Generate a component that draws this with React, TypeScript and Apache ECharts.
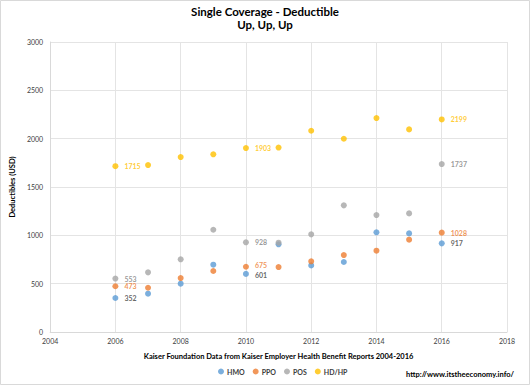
import React, { useEffect, useRef } from "react";
import * as echarts from "echarts";

const years = [2006, 2007, 2008, 2009, 2010, 2011, 2012, 2013, 2014, 2015, 2016];
const hmo = [352, 396, 500, 696, 601, 907, 689, 724, 1031, 1020, 917];
const ppo = [473, 458, 558, 631, 675, 672, 731, 796, 841, 955, 1028];
const pos = [553, 617, 752, 1058, 928, 924, 1010, 1310, 1210, 1227, 1737];
const hdhp = [1715, 1727, 1810, 1838, 1903, 1908, 2082, 1999, 2213, 2096, 2199];
const labeledYears = [2006, 2010, 2016];
const seriesNames = ["HMO", "PPO", "POS", "HD/HP"];
const colors = ["#5B9BD5", "#ED7D31", "#A5A5A5", "#FFC000"];
const labelColors = ["#404040", "#ED7D31", "#7F7F7F", "#FFC000"];

const FONT = "Lato, 'Open Sans', sans-serif";

export default function App() {
  const ref = useRef<HTMLDivElement>(null);
  useEffect(() => {
    if (!ref.current) return;
    const chart = echarts.init(ref.current, undefined, { renderer: "svg" });
    const all = [hmo, ppo, pos, hdhp];
    const nudge = (i: number, y: number) => {
      if (y !== 2010) return 0;
      if (i === 0) return 1.5;
      if (i === 1) return -1.5;
      return 0;
    };
    chart.setOption({
      animation: false,
      backgroundColor: "#fff",
      textStyle: { fontFamily: FONT },
      title: {
        text: "Single Coverage - Deductible\nUp, Up, Up",
        left: "center",
        top: 0,
        textStyle: { fontSize: 11.5, fontWeight: "bold", color: "#000", lineHeight: 13, fontFamily: FONT },
      },
      legend: {
        bottom: 5,
        left: 213,
        icon: "circle",
        itemWidth: 6,
        itemHeight: 6,
        itemGap: 8,
        textStyle: { fontSize: 7, fontWeight: "bold", color: "#404040", fontFamily: FONT, padding: [0, 0, 0, -2] },
        data: seriesNames,
      },
      graphic: [
        {
          type: "rect",
          shape: { x: 0.5, y: 0.5, width: 529, height: 384 },
          style: { fill: "none", stroke: "#D9D9D9", lineWidth: 1 },
          silent: true,
        },
        {
          type: "text",
          left: 406,
          top: 370,
          style: {
            text: "http://www.itstheeconomy.info/",
            fontSize: 7.5,
            fontWeight: "bold",
            fill: "#000",
            fontFamily: FONT,
          },
        },
      ],
      grid: { left: 42, right: 23, top: 42, bottom: 53 },
      xAxis: {
        type: "value",
        min: 2004,
        max: 2018,
        interval: 2,
        name: "Kaiser Foundation Data from Kaiser Employer Health Benefit Reports 2004-2016",
        nameLocation: "middle",
        nameGap: 20,
        nameTextStyle: { fontSize: 7.5, fontWeight: "bold", color: "#000", fontFamily: FONT },
        axisLine: { show: true, lineStyle: { color: "#D9D9D9" } },
        axisTick: { show: false },
        axisLabel: { fontSize: 7, color: "#404040", margin: 5, fontFamily: FONT, formatter: (v: number) => String(v) },
        splitLine: { show: true, lineStyle: { color: "#E4E4E4" } },
      },
      yAxis: {
        type: "value",
        min: 0,
        max: 3000,
        interval: 500,
        name: "Deductibles (USD)",
        nameLocation: "middle",
        nameGap: 25,
        nameTextStyle: { fontSize: 7.5, fontWeight: "bold", color: "#000", fontFamily: FONT },
        axisLine: { show: true, lineStyle: { color: "#D9D9D9" } },
        axisTick: { show: false },
        axisLabel: { fontSize: 7, color: "#404040", margin: 7, fontFamily: FONT, formatter: (v: number) => String(v) },
        splitLine: { show: true, lineStyle: { color: "#E4E4E4" } },
      },
      series: seriesNames.map((name, i) => ({
        name,
        type: "scatter",
        symbolSize: 6,
        itemStyle: { color: colors[i] },
        data: years.map((y, j) => ({
          value: [y, all[i][j]],
          label: {
            show: labeledYears.includes(y),
            formatter: String(all[i][j]),
            position: "right",
            distance: 6,
            offset: [0, nudge(i, y)],
            fontSize: 7,
            lineHeight: 6,
            fontWeight: "bold",
            color: labelColors[i],
            fontFamily: FONT,
          },
        })),
      })),
    });
    return () => chart.dispose();
  }, []);
  return (
    <div
      ref={ref}
      style={{ position: "fixed", left: 0, top: 0, width: 530, height: 385 }}
    />
  );
}
